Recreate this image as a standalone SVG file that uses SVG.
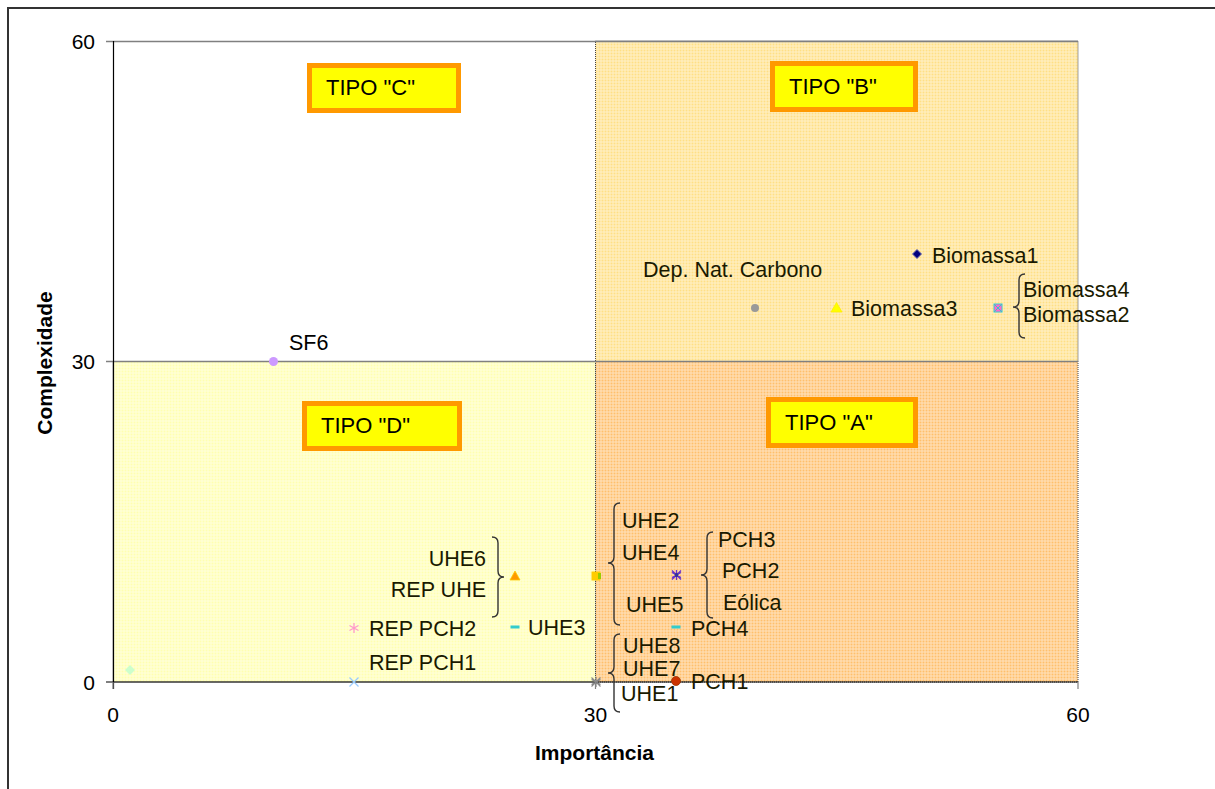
<svg xmlns="http://www.w3.org/2000/svg" width="1215" height="789" viewBox="0 0 1215 789">
<style>
text{font-family:"Liberation Sans",Arial,sans-serif;fill:#000}
.tk{font-size:21px}
.lb{font-size:21.5px;fill:#1a1a00}
.ti{font-size:22px}
.ax{font-size:21px;font-weight:bold}
.br{fill:none;stroke:#333;stroke-width:1.4}
.tb{fill:#FFFF00;stroke:#FF9900;stroke-width:5}
.q{stroke:#444;stroke-width:1;stroke-dasharray:1 1}
</style>
<defs>
<pattern id="pB" width="6" height="6" patternUnits="userSpaceOnUse">
<rect width="6" height="6" fill="#FFDF85"/>
<path d="M0 1H6M0 4H6M1 0V6M4 0V6" stroke="#fff" stroke-width="1" opacity="0.55"/>
</pattern>
<pattern id="pA" width="6" height="6" patternUnits="userSpaceOnUse">
<rect width="6" height="6" fill="#FFBF6C"/>
<path d="M0 1H6M0 4H6M1 0V6M4 0V6" stroke="#fff" stroke-width="1" opacity="0.55"/>
</pattern>
<pattern id="pD" width="6" height="6" patternUnits="userSpaceOnUse">
<rect width="6" height="6" fill="#FFFFB0"/>
<path d="M0 1H6M0 4H6M1 0V6M4 0V6" stroke="#fff" stroke-width="1" opacity="0.55"/>
</pattern>
</defs>
<rect width="1215" height="789" fill="#fff"/>
<rect x="8" y="8" width="1300" height="900" fill="none" stroke="#333" stroke-width="2"/>

<g id="quadrants">
<rect id="quadB" class="q" x="595.5" y="41" width="482.5" height="320.5" fill="url(#pB)"/>
<rect id="quadA" class="q" x="595.5" y="361.5" width="482.5" height="320.5" fill="url(#pA)"/>
<rect id="quadD" class="q" x="113" y="361.5" width="482.5" height="320.5" fill="url(#pD)"/>
</g>

<g id="axes">
<path d="M106 41.5H1078M106 361.5H1078" stroke="#808080" stroke-width="1.5"/>
<path d="M113.5 41V689M106 682H1078M106 682H113" stroke="#000" stroke-width="1.2"/>
<path d="M113 682V689M595.5 682V689M1078 682V689" stroke="#808080" stroke-width="1.2"/>
<text class="tk" x="95" y="49" text-anchor="end">60</text>
<text class="tk" x="95" y="369" text-anchor="end">30</text>
<text class="tk" x="95" y="690" text-anchor="end">0</text>
<text class="tk" x="113" y="722" text-anchor="middle">0</text>
<text class="tk" x="595.5" y="722" text-anchor="middle">30</text>
<text class="tk" x="1078" y="722" text-anchor="middle">60</text>
<text class="ax" x="594.5" y="760" text-anchor="middle">Importância</text>
<text class="ax" transform="translate(52,363) rotate(-90)" text-anchor="middle">Complexidade</text>
</g>

<g id="tipoC"><rect class="tb" x="309.5" y="65.5" width="149" height="45"/><text class="ti" x="326" y="95">TIPO "C"</text></g>
<g id="tipoB"><rect class="tb" x="772.5" y="63.5" width="143" height="46"/><text class="ti" x="789" y="94">TIPO "B"</text></g>
<g id="tipoD"><rect class="tb" x="304.5" y="403.5" width="155" height="45"/><text class="ti" x="321" y="433">TIPO "D"</text></g>
<g id="tipoA"><rect class="tb" x="768.5" y="399.5" width="147" height="46"/><text class="ti" x="785" y="430">TIPO "A"</text></g>

<g id="connectors">
<path class="br" d="M1025 274q-6 0-6 6V301q0 6-6 6q6 0 6 6V332q0 6 6 6"/>
<path class="br" d="M492 537q6 0 6 6V571q0 6 6 6q-6 0-6 6V611q0 6-6 6"/>
<path class="br" d="M620 503q-6 0-6 6V557q0 6-6 6q6 0 6 6V619q0 6 6 6"/>
<path class="br" d="M713 532q-6 0-6 6V569q0 6-6 6q6 0 6 6V612q0 6 6 6"/>
<path class="br" d="M620 634q-6 0-6 6V667q0 6-6 6q6 0 6 6V706q0 6 6 6"/>
</g>

<g id="biomassa1"><path d="M917 249.5l4.5 4.5-4.5 4.5-4.5-4.5z" fill="#000080" stroke="#6666aa" stroke-width="1"/><text class="lb" x="932" y="263">Biomassa1</text></g>
<g id="depnat"><circle cx="755" cy="308" r="4" fill="#999"/><text class="lb" x="643" y="277">Dep. Nat. Carbono</text></g>
<g id="biomassa3"><path d="M836.5 302.5l5.5 9.5h-11z" fill="#FFFF00" stroke="#FFEE00" stroke-width="0.8"/><text class="lb" x="851" y="316">Biomassa3</text></g>
<g id="biomassa42"><rect x="994" y="304" width="8" height="8" fill="#FF66CC" stroke="#33CCCC" stroke-width="1"/><path d="M994 304l8 8M1002 304l-8 8" stroke="#33CCCC" stroke-width="1"/><text class="lb" x="1023" y="297">Biomassa4</text><text class="lb" x="1023" y="322">Biomassa2</text></g>
<g id="sf6"><circle cx="273.5" cy="361.5" r="4.5" fill="#CC99FF"/><text class="lb" x="289" y="350" style="fill:#000">SF6</text></g>
<g id="uhe6"><path d="M515 571l5 9h-10z" fill="#FF9900" stroke="#FFCC00" stroke-width="0.8"/><text class="lb" x="486" y="566" text-anchor="end">UHE6</text><text class="lb" x="486" y="597" text-anchor="end">REP UHE</text></g>
<g id="reppch2"><path d="M354 623v10M349.5 625.5l9 5M349.5 630.5l9-5" stroke="#FF99CC" stroke-width="1.3"/><text class="lb" x="369" y="636">REP PCH2</text></g>
<g id="uhe3"><rect x="510.5" y="625.5" width="9" height="3" fill="#33CCCC"/><text class="lb" x="528" y="635">UHE3</text></g>
<g id="reppch1"><path d="M349.5 677.5l9 9M358.5 677.5l-9 9" stroke="#99CCFF" stroke-width="1.3"/><text class="lb" x="369" y="670">REP PCH1</text></g>
<g id="p0"><path d="M130 665l5 5-5 5-5-5z" fill="#CCFFCC"/></g>
<g id="uhe245"><rect x="591.5" y="571.5" width="9" height="9" fill="#FFCC00"/><rect x="598" y="573" width="3" height="6" fill="#99CC00"/><text class="lb" x="622" y="528">UHE2</text><text class="lb" x="622" y="560">UHE4</text><text class="lb" x="626" y="612">UHE5</text></g>
<g id="uhe871"><path d="M596 677v10M591.5 679.5l9 5M591.5 684.5l9-5M591.5 677.5l9 9M600.5 677.5l-9 9" stroke="#888" stroke-width="1.2"/><text class="lb" x="623" y="653">UHE8</text><text class="lb" x="623" y="676">UHE7</text><text class="lb" x="621" y="701">UHE1</text></g>
<g id="pch32e"><path d="M676.5 570v10M672 572.5l9 5M672 577.5l9-5M672 570.5l9 9M681 570.5l-9 9" stroke="#6633CC" stroke-width="1.3"/><circle cx="676.5" cy="575" r="2" fill="#333399"/><text class="lb" x="718" y="547">PCH3</text><text class="lb" x="722" y="578">PCH2</text><text class="lb" x="723" y="610">Eólica</text></g>
<g id="pch4"><rect x="671.5" y="625.5" width="9" height="3" fill="#33CCCC"/><text class="lb" x="691" y="636">PCH4</text></g>
<g id="pch1"><circle cx="676" cy="681" r="4.5" fill="#CC3300" stroke="#993300" stroke-width="0.8"/><text class="lb" x="691" y="689">PCH1</text></g>
</svg>
